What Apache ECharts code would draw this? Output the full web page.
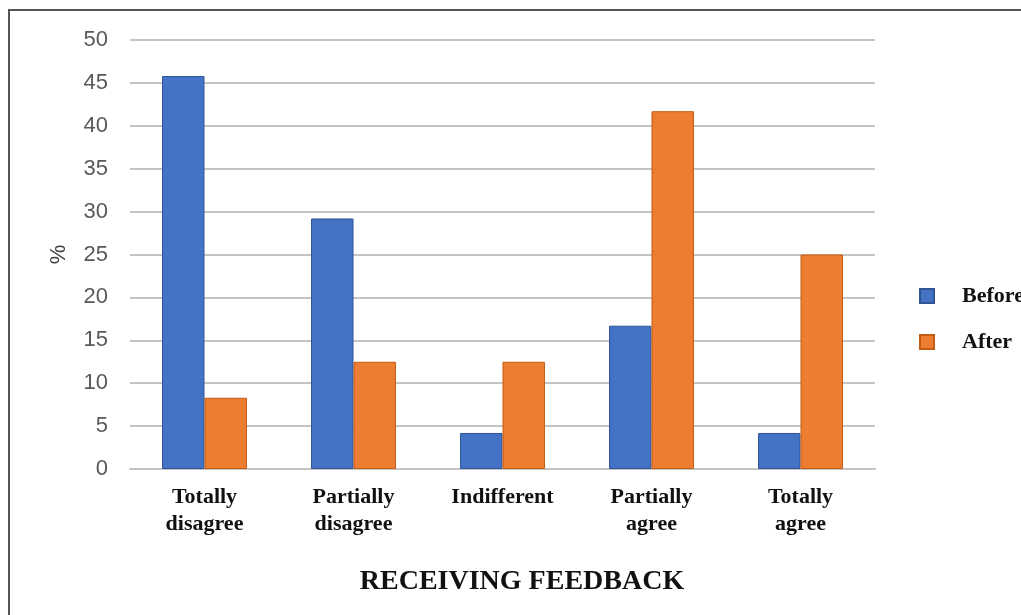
<!DOCTYPE html>
<html>
<head>
<meta charset="utf-8">
<style>html,body{margin:0;padding:0;background:#fff;}#c{width:1021px;height:615px;}</style>
<script src="https://cdn.jsdelivr.net/npm/echarts@6/dist/echarts.min.js"></script>
</head>
<body>
<div id="c"></div>
<script>
const categories = ['Totally\ndisagree', 'Partially\ndisagree', 'Indifferent', 'Partially\nagree', 'Totally\nagree'];
const beforeValues = [45.8, 29.2, 4.2, 16.7, 4.2];
const afterValues = [8.3, 12.5, 12.5, 41.7, 25.0];
const seriesNames = ['Before', 'After'];
const yTicks = { min: 0, max: 50, interval: 5 };
const xTitle = 'RECEIVING FEEDBACK';

const chart = echarts.init(document.getElementById('c'));
const serif = '"Liberation Serif", "DejaVu Serif", serif';
const sans = '"Liberation Sans", Arial, sans-serif';
chart.setOption({
  animation: false,
  backgroundColor: '#fff',
  graphic: [
    {
      type: 'rect', shape: { x: 9, y: 10, width: 1200, height: 800 },
      style: { fill: 'none', stroke: '#555', lineWidth: 2 }, silent: true, z: 100
    },
    {
      type: 'text', x: 522, y: 582,
      style: { text: xTitle, fontFamily: serif, fontWeight: 'bold', fontSize: 28, fill: '#111', align: 'center', verticalAlign: 'middle' }
    }
  ],
  grid: { left: 130, right: 146, top: 40, bottom: 146 },
  legend: {
    orient: 'vertical', left: 914, top: 279,
    icon: 'rect', itemWidth: 14, itemHeight: 14, itemGap: 22,
    data: seriesNames,
    textStyle: { fontFamily: serif, fontWeight: 'bold', fontSize: 22, color: '#111', lineHeight: 24, padding: [0, 0, 0, 23] }
  },
  xAxis: {
    type: 'category', data: categories,
    axisTick: { show: false },
    axisLine: { lineStyle: { color: '#c4c4c4', width: 2 } },
    axisLabel: { fontFamily: serif, fontWeight: 'bold', fontSize: 22, color: '#111', lineHeight: 27, margin: 15, interval: 0 }
  },
  yAxis: {
    type: 'value', min: yTicks.min, max: yTicks.max, interval: yTicks.interval,
    axisLine: { show: false }, axisTick: { show: false },
    splitLine: { lineStyle: { color: '#c4c4c4', width: 2 } },
    axisLabel: { fontFamily: sans, fontSize: 22, color: '#595959', margin: 22 },
    name: '%', nameLocation: 'middle', nameRotate: 90, nameGap: 60,
    nameTextStyle: { fontFamily: sans, fontSize: 22, color: '#404040' }
  },
  series: [
    {
      name: seriesNames[0], type: 'bar', data: beforeValues,
      barGap: '0%', barCategoryGap: '43%',
      itemStyle: { color: '#4472C4', borderColor: '#2f5597', borderWidth: 1 }
    },
    {
      name: seriesNames[1], type: 'bar', data: afterValues,
      itemStyle: { color: '#ED7D31', borderColor: '#c55a11', borderWidth: 1 }
    }
  ]
});
</script>
</body>
</html>
